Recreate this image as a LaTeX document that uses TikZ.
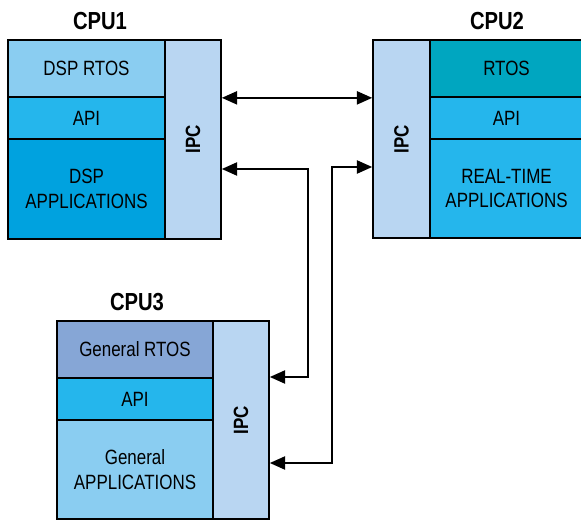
\documentclass[tikz,border=0pt]{standalone}
\usepackage{fontspec}
\setmainfont{Liberation Sans}[FakeStretch=0.82]
\usepackage{tikz}
\usetikzlibrary{arrows.meta}

\definecolor{rtoslight}{HTML}{8ACDF1}
\definecolor{apiblue}{HTML}{25B6EC}
\definecolor{dspblue}{HTML}{00A2DF}
\definecolor{ipcblue}{HTML}{B9D6F2}
\definecolor{rtosteal}{HTML}{00A6C0}
\definecolor{genblue}{HTML}{86A6D6}

\begin{document}
\begin{tikzpicture}[x=0.75pt, y=-0.75pt,
    blk/.style 2 args={draw, line width=1.3pt, inner sep=0pt, align=center,
        minimum width=#1*0.75pt, minimum height=#2*0.75pt,
        font=\fontsize{15.5}{18.5}\selectfont},
    ipc/.style={blk={#1}{198}, fill=ipcblue, rotate=90,
        font=\fontsize{15.5}{18.5}\selectfont\bfseries},
    title/.style={font=\fontsize{18.5}{21}\selectfont\bfseries},
    arr/.style={line width=1.1pt,
        {Triangle[length=11.5pt,width=10pt]}-{Triangle[length=11.5pt,width=10pt]}}]
    \useasboundingbox (0,0) rectangle (581,520);

    % CPU1
    \node[title] (cpuA) at (100,21) {CPU1};
    \node[blk={157}{57}, fill=rtoslight] (rtosA) at (86.5,68.5) {DSP RTOS};
    \node[blk={157}{42}, fill=apiblue] (apiA) at (86.5,118) {API};
    \node[blk={157}{100}, fill=dspblue] (appA) at (86.5,189) {DSP\\APPLICATIONS};
    \node[ipc={199}, minimum height=56*0.75pt] (ipcA) at (193,139.5) {IPC};

    % CPU2
    \node[title] (cpuB) at (497,21) {CPU2};
    \node[ipc={198}, minimum height=57*0.75pt] (ipcB) at (401.5,139) {IPC};
    \node[blk={153}{57}, fill=rtosteal] (rtosB) at (506.5,68.5) {RTOS};
    \node[blk={153}{42}, fill=apiblue] (apiB) at (506.5,118) {API};
    \node[blk={153}{99}, fill=apiblue] (appB) at (506.5,188.5) {REAL-TIME\\APPLICATIONS};

    % CPU3
    \node[title] (cpuC) at (137,302) {CPU3};
    \node[blk={156}{57}, fill=genblue] (rtosC) at (135,349.5) {General RTOS};
    \node[blk={156}{42}, fill=apiblue] (apiC) at (135,399) {API};
    \node[blk={156}{99}, fill=rtoslight] (appC) at (135,469.5) {General\\APPLICATIONS};
    \node[ipc={198}, minimum height=56*0.75pt] (ipcC) at (241,420) {IPC};

    % links
    \coordinate (bendA) at (308,169);
    \coordinate (bendB) at (308,377);
    \coordinate (bendC) at (332,167);
    \coordinate (bendD) at (332,463);
    \draw[arr] (ipcA.south |- rtosA.south) -- (ipcB.north |- rtosA.south);
    \draw[arr] (ipcA.south |- bendA) -- (bendA) -- (bendB) -- (ipcC.south |- bendB);
    \draw[arr] (ipcC.south |- bendD) -- (bendD) -- (bendC) -- (ipcB.north |- bendC);
\end{tikzpicture}
\end{document}
